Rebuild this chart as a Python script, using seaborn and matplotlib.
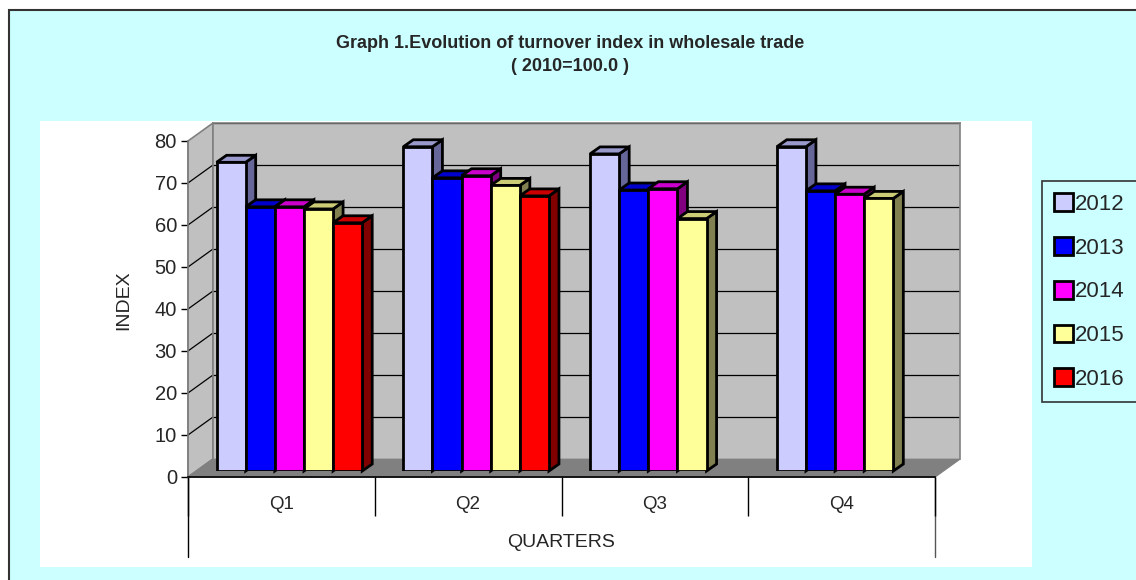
import numpy as np
import pandas as pd
import matplotlib
matplotlib.use("Agg")
import matplotlib.pyplot as plt
import seaborn as sns
from matplotlib.patches import Polygon, Rectangle, Patch

# ---------------- data ----------------
quarters = ["Q1", "Q2", "Q3", "Q4"]
years = ["2012", "2013", "2014", "2015", "2016"]
v2012 = [73.5, 77.2, 75.5, 77.2]
v2013 = [62.9, 69.8, 66.9, 66.7]
v2014 = [62.9, 70.3, 67.2, 65.9]
v2015 = [62.4, 68.0, 60.1, 64.9]
v2016 = [59.1, 65.5, np.nan, np.nan]
y_ticks = [0, 10, 20, 30, 40, 50, 60, 70, 80]

front_colors = ["#CCCCFF", "#0000FF", "#FF00FF", "#FFFF99", "#FF0000"]
top_colors = ["#9999CC", "#0000CC", "#CC00CC", "#CCCC77", "#CC0000"]
side_colors = ["#666699", "#000099", "#800080", "#808050", "#800000"]

rows = []
for yr, vals in zip(years, [v2012, v2013, v2014, v2015, v2016]):
    for q, v in zip(quarters, vals):
        if not np.isnan(v):
            rows.append({"quarter": q, "year": yr, "value": v})
df = pd.DataFrame(rows)

# ---------------- style ----------------
sns.set_theme(style="white")
plt.rcParams['font.family'] = ['Liberation Sans', 'DejaVu Sans']

W, H = 1136, 580
fig = plt.figure(figsize=(W / 100, H / 100), dpi=100, facecolor="white")


def rect(x0, y0, x1, y1):
    """pixel box (top-left origin) -> figure fraction [l, b, w, h]"""
    return [x0 / W, 1 - y1 / H, (x1 - x0) / W, (y1 - y0) / H]


# layout of the pseudo-3D frame (pixels)
FX0, FX1 = 188, 935      # front x-range
FY0, FY80 = 477, 141     # front y of value 0 and 80
DX, DY = 25, 18          # wall depth offset
PXV = (FY0 - FY80) / 80.0
BAR_DX, BAR_DY = 8, 6    # position of the bars' front plane
SIDE_DX, SIDE_DY = 10, 7 # bar depth

# background / frame
bg = fig.add_axes([0, 0, 1, 1])
bg.set_xlim(0, W)
bg.set_ylim(H, 0)
bg.axis("off")
bg.set_zorder(0)
bg.add_patch(Rectangle((9, 10), W + 40, H + 40, fc="#CCFFFF", ec="#333333", lw=1.5))
bg.add_patch(Rectangle((40, 121), 992, 446, fc="white", ec="none"))
# left side wall
bg.add_patch(Polygon([(FX0, FY0), (FX0, FY80), (FX0 + DX, FY80 - DY), (FX0 + DX, FY0 - DY)],
                     closed=True, fc="#C0C0C0", ec="#808080", lw=1.2))
for t in y_ticks[1:-1]:
    yy = FY0 - t * PXV
    bg.plot([FX0, FX0 + DX], [yy, yy - DY], color="black", lw=0.9)
# floor
bg.add_patch(Polygon([(FX0, FY0), (FX1, FY0), (FX1 + DX, FY0 - DY), (FX0 + DX, FY0 - DY)],
                     closed=True, fc="#808080", ec="#808080", lw=1))
# outer separators of the category table
bg.plot([FX0, FX0], [FY0, 557], color="black", lw=1)
bg.plot([FX1, FX1], [FY0, 557], color="#555555", lw=1)

# back wall
wall = fig.add_axes(rect(FX0 + DX, FY80 - DY, FX1 + DX, FY0 - DY))
wall.set_zorder(1)
wall.set_facecolor("#C0C0C0")
wall.set_xlim(0, 1)
wall.set_ylim(0, 80)
wall.set_yticks(y_ticks)
wall.set_xticks([])
wall.tick_params(left=False, labelleft=False)
wall.grid(axis="y", color="black", lw=0.9)
for s in ["top", "left", "right"]:
    wall.spines[s].set_color("#808080")
    wall.spines[s].set_linewidth(1.2)
wall.spines["bottom"].set_visible(False)

# front axis (ticks, labels)
front = fig.add_axes(rect(FX0, FY80, FX1, FY0))
front.set_zorder(2)
front.patch.set_alpha(0)
front.set_xlim(-0.5, 3.5)
front.set_ylim(0, 80)
front.set_yticks(y_ticks)
front.set_yticklabels([str(t) for t in y_ticks], fontsize=14.5)
front.tick_params(axis="y", left=True, length=5, width=1, color="black", pad=3)
front.set_xticks(range(len(quarters)))
front.set_xticklabels(quarters, fontsize=13.5)
front.tick_params(axis="x", which="major", bottom=True, length=0, pad=14)
front.set_xticks(np.arange(-0.5, len(quarters), 1.0), minor=True)
front.tick_params(axis="x", which="minor", bottom=True, length=28, width=1, color="black")
front.spines["top"].set_visible(False)
front.spines["right"].set_visible(False)
front.spines["left"].set_color("#808080")
front.spines["left"].set_linewidth(1.2)
front.spines["bottom"].set_color("black")
front.spines["bottom"].set_linewidth(1.2)
front.grid(False)
front.set_xlabel("QUARTERS", fontsize=14)
front.set_ylabel("INDEX", fontsize=14)
front.xaxis.set_label_coords(0.5, (FY0 - 534) / (FY0 - FY80))
front.yaxis.set_label_coords((132 - FX0) / (FX1 - FX0), (FY0 - 300) / (FY0 - FY80))

# bars
bars = fig.add_axes(rect(FX0 + BAR_DX, FY80 - BAR_DY, FX1 + BAR_DX, FY0 - BAR_DY))
bars.set_zorder(3)
bars.patch.set_alpha(0)
sns.barplot(data=df, x="quarter", y="value", hue="year", order=quarters, hue_order=years,
            palette=dict(zip(years, front_colors)), saturation=1, width=0.78,
            edgecolor="black", linewidth=2, legend=False, ax=bars, errorbar=None)
bars.set_xlim(-0.5, 3.5)
bars.set_ylim(0, 80)
bars.axis("off")

px_per_cat = (FX1 - FX0) / 4.0
ddx = SIDE_DX / px_per_cat
ddy = SIDE_DY / PXV

items = []
for i, cont in enumerate(bars.containers):
    for p in cont:
        h = p.get_height()
        if h is None or np.isnan(h) or h == 0:
            continue
        items.append((p.get_x(), p.get_width(), h, i, p))
items.sort(key=lambda t: t[0])
for k, (x0, w, h, i, p) in enumerate(items):
    base = 10 + 3 * k
    p.set_zorder(base + 2)
    x1 = x0 + w
    top = Polygon([(x0, h), (x1, h), (x1 + ddx, h + ddy), (x0 + ddx, h + ddy)], closed=True,
                  fc=top_colors[i], ec="black", lw=2, zorder=base + 1, joinstyle="miter")
    side = Polygon([(x1, 0), (x1 + ddx, ddy), (x1 + ddx, h + ddy), (x1, h)], closed=True,
                   fc=side_colors[i], ec="black", lw=2, zorder=base + 1, joinstyle="miter")
    bars.add_patch(side)
    bars.add_patch(top)
    for a in (top, side):
        a.set_clip_on(False)

# title
fig.text(570 / W, 1 - 55 / H, "Graph 1.Evolution of turnover index in wholesale trade\n( 2010=100.0 )",
         ha="center", va="center", fontsize=13, fontweight="bold", linespacing=1.45)

# legend (frame runs off the right edge, as in the original)
handles = [Patch(fc=c, ec="black", lw=2) for c in front_colors]
leg = fig.legend(handles, years, loc="upper left",
                 bbox_to_anchor=(1042 / W, 1 - 181 / H - 0.01, 120 / W, 0.01), mode="expand",
                 frameon=True, fancybox=False, facecolor="#CCFFFF", edgecolor="#333333",
                 framealpha=1, fontsize=16, handlelength=0.85, handleheight=0.85,
                 handletextpad=0.1, labelspacing=1.0, borderpad=0.55, borderaxespad=0)
leg.get_frame().set_linewidth(1.2)

fig.savefig("out.png", dpi=100, facecolor="white")
